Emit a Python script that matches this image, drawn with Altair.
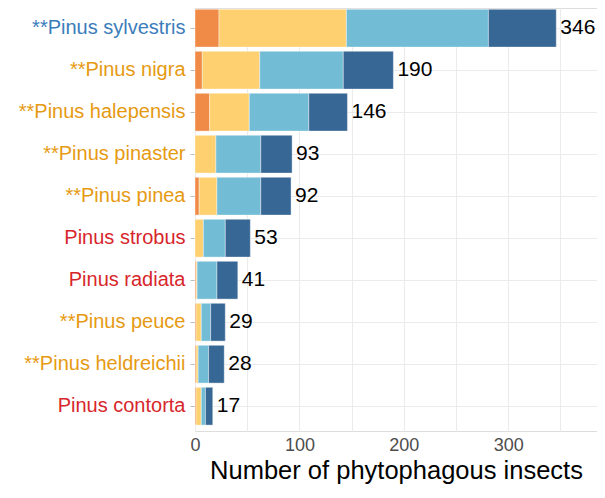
import altair as alt
import pandas as pd

species = ["**Pinus sylvestris", "**Pinus nigra", "**Pinus halepensis", "**Pinus pinaster",
           "**Pinus pinea", "Pinus strobus", "Pinus radiata", "**Pinus peuce",
           "**Pinus heldreichii", "Pinus contorta"]
seg1 = [23, 7, 14, 0, 4, 0, 1, 1, 1, 1]
seg2 = [122, 55, 38, 20, 17, 8, 1, 5, 2, 5]
seg3 = [136, 80, 57, 43, 42, 21, 19, 9, 10, 4]
seg4 = [65, 48, 37, 30, 29, 24, 20, 14, 15, 7]
totals = [346, 190, 146, 93, 92, 53, 41, 29, 28, 17]

seg_names = ["s1", "s2", "s3", "s4"]
seg_colors = ["#ef8a47", "#ffd06f", "#72bcd5", "#376795"]
red_species = ["Pinus strobus", "Pinus radiata", "Pinus contorta"]
blue_species = ["**Pinus sylvestris"]

rows = []
for i, sp in enumerate(species):
    for k, vals in enumerate([seg1, seg2, seg3, seg4]):
        rows.append({"species": sp, "segment": seg_names[k], "ord": k, "value": vals[i]})
df = pd.DataFrame(rows)
tot = pd.DataFrame({"species": species, "total": totals})

FONT = "Liberation Sans"

red_test = "indexof(" + str(red_species) + ", datum.value) >= 0"
blue_test = "indexof(" + str(blue_species) + ", datum.value) >= 0"

y_enc = alt.Y(
    "species:N",
    sort=species,
    title=None,
    scale=alt.Scale(paddingInner=0.1, paddingOuter=0.0857, align=0.18),
    axis=alt.Axis(
        bandPosition=0.5,
        grid=True,
        gridColor="#EBEBEB",
        gridWidth=1.1,
        domain=False,
        ticks=True,
        tickColor="#BDBDBD",
        tickSize=5,
        tickWidth=1,
        labelPadding=5,
        labelFont=FONT,
        labelFontSize=20,
        labelLimit=300,
        labelColor={
            "condition": [
                {"test": red_test, "value": "#D7262B"},
                {"test": blue_test, "value": "#3A7DBA"},
            ],
            "value": "#E69A12",
        },
    ),
)

x_scale = alt.Scale(domain=[0, 385], nice=False, zero=True)

bars = alt.Chart(df).mark_bar(stroke="white", strokeWidth=0.4).encode(
    x=alt.X(
        "sum(value):Q",
        scale=x_scale,
        title="Number of phytophagous insects",
        axis=alt.Axis(
            values=[0, 50, 100, 150, 200, 250, 300, 350],
            labelExpr="datum.value % 100 == 0 ? datum.label : ''",
            grid=True,
            gridColor="#EBEBEB",
            gridWidth=1.1,
            domain=False,
            ticks=False,
            labelPadding=5,
            labelFont=FONT,
            labelFontSize=18,
            labelColor="#4D4D4D",
            labelFlush=False,
            titleFont=FONT,
            titleFontSize=25.5,
            titleFontWeight="normal",
            titleColor="#000000",
            titlePadding=4,
        ),
    ),
    y=y_enc,
    color=alt.Color("segment:N", scale=alt.Scale(domain=seg_names, range=seg_colors), legend=None),
    order=alt.Order("ord:Q", sort="ascending"),
)

labels = alt.Chart(tot).mark_text(
    align="left", baseline="middle", dx=4, fontSize=21, font=FONT, color="#000000"
).encode(
    x=alt.X("total:Q", scale=x_scale),
    y=alt.Y("species:N", sort=species),
    text=alt.Text("total:Q"),
)

chart = alt.layer(bars, labels).properties(
    width=402,
    height=423,
    autosize=alt.AutoSizeParams(type="none"),
    padding={"left": 187, "top": 0, "right": 0, "bottom": 58},
).configure_view(stroke=None).configure(background="white")

chart.save("out.html", embed_options={"renderer": "svg", "actions": False})
